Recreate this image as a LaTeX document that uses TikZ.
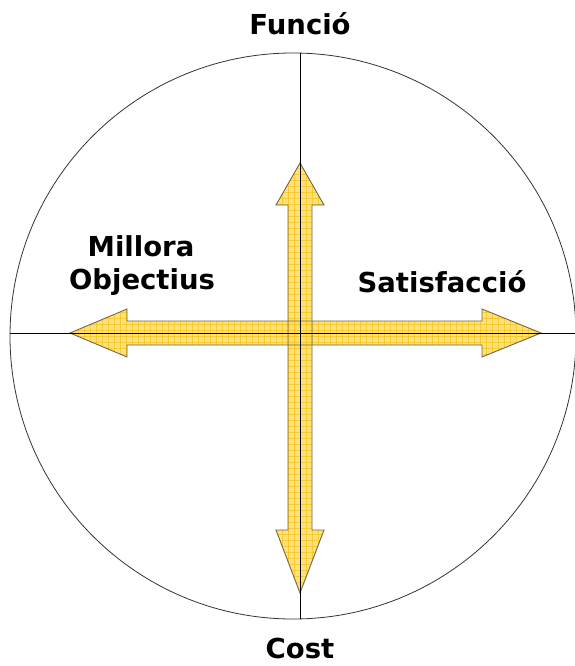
\documentclass[tikz,border=0pt]{standalone}
\usepackage{fontspec}
\setmainfont{DejaVu Sans}
\begin{document}
\begin{tikzpicture}[x=1pt,y=-1pt,
  lbl/.style={font=\bfseries\fontsize{27.5}{33}\selectfont, anchor=base, inner sep=0pt, text=black},
  axis/.style={line width=0.9pt, black},
  rim/.style={line width=0.8pt, black!80},
  arrowfill/.style={fill=arrowyellow, fill opacity=0.85},
  arrowedge/.style={draw=arrowedge, line width=0.9pt}
]
\definecolor{arrowyellow}{HTML}{FFDB6A}
\definecolor{gridgold}{HTML}{F5C000}
\definecolor{arrowedge}{HTML}{6E6650}
\useasboundingbox (0,0) rectangle (575,666);
\clip (0,0) rectangle (575,666);

% circle and axes
\coordinate (C) at (293,336);
\draw[rim] (C) circle [radius=283];
\coordinate (top) at (300,53);
\coordinate (bot) at (300,619);
\coordinate (lft) at (10,333);
\coordinate (rgt) at (577,333);

% horizontal double arrow
\def\harrow{(70,333) -- (127,309) -- (127,321) -- (482,321) -- (482,309) -- (541,333) -- (482,357) -- (482,345) -- (127,345) -- (127,357) -- cycle}
% vertical double arrow
\def\varrow{(300,163) -- (324,205) -- (312,205) -- (312,530) -- (324,530) -- (300,593) -- (276,530) -- (288,530) -- (288,205) -- (276,205) -- cycle}

\foreach \shp in {\harrow,\varrow}{
  \fill[arrowfill] \shp;
  \begin{scope}
    \clip \shp;
    \foreach \i in {0,6,...,575} \draw[gridgold, line width=0.45pt, opacity=0.6] (\i,0) -- (\i,666);
    \foreach \j in {0,6,...,666} \draw[gridgold, line width=0.45pt, opacity=0.6] (0,\j) -- (575,\j);
  \end{scope}
}
\draw[arrowedge] \harrow;
\draw[arrowedge] \varrow;

\draw[axis] (top) -- (bot);
\draw[axis] (lft) -- (rgt);

% labels
\node[lbl] (funcio) at (300,35) {Funció};
\node[lbl] (cost) at (300,658) {Cost};
\node[lbl] (millora) at (141,256) {Millora};
\node[lbl] (objectius) at (142,289) {Objectius};
\node[lbl] (satisf) at (442,292) {Satisfacció};
\end{tikzpicture}
\end{document}
